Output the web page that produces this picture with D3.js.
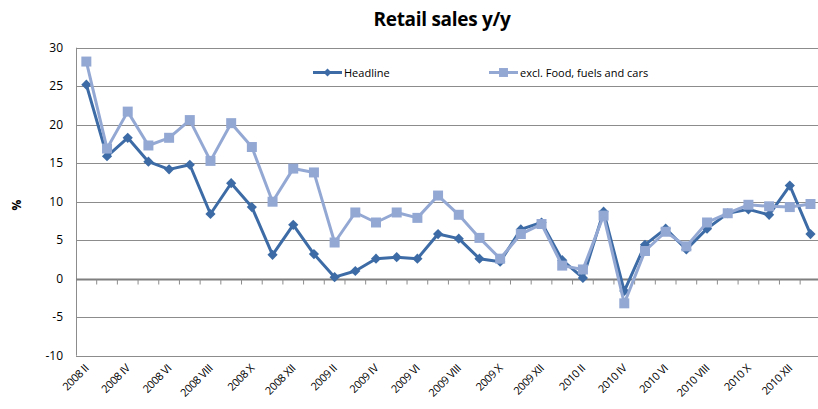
<!DOCTYPE html>
<html>
  <head>
    <meta charset="utf-8" />
    <title>Retail sales y/y</title>
    <script src="https://d3js.org/d3.v7.min.js"></script>
    <style>
        body {
            margin:0;
            background:#fff;
        }
        text {
            font-family: "Open Sans", "DejaVu Sans", sans-serif;
        }
    </style>
  </head>
  <body>
    <svg id="viz"></svg>

    <script>
    var width = 818;
    var height = 409;

    // months 2008 II .. 2011 I
    var months = ["2008 II","2008 III","2008 IV","2008 V","2008 VI","2008 VII","2008 VIII","2008 IX","2008 X","2008 XI","2008 XII",
      "2009 I","2009 II","2009 III","2009 IV","2009 V","2009 VI","2009 VII","2009 VIII","2009 IX","2009 X","2009 XI","2009 XII",
      "2010 I","2010 II","2010 III","2010 IV","2010 V","2010 VI","2010 VII","2010 VIII","2010 IX","2010 X","2010 XI","2010 XII",
      "2011 I"];

    var headline = [25.2,15.9,18.3,15.2,14.2,14.8,8.4,12.4,9.3,3.1,7.0,
      3.2,0.2,1.0,2.6,2.8,2.6,5.8,5.2,2.6,2.2,6.4,7.3,
      2.4,0.1,8.7,-1.6,4.4,6.5,3.8,6.5,8.5,9.0,8.3,12.1,
      5.8];

    var exclFood = [28.2,16.9,21.7,17.3,18.3,20.6,15.3,20.2,17.1,10.0,14.3,
      13.8,4.7,8.6,7.3,8.6,7.9,10.8,8.3,5.3,2.6,5.8,7.1,
      1.7,1.2,8.2,-3.2,3.6,6.1,4.2,7.3,8.5,9.6,9.4,9.3,
      9.7];

    var yTicks = [-10,-5,0,5,10,15,20,25,30];

    var svg = d3.select("#viz")
      .attr("width", width)
      .attr("height", height);

    var plotLeft = 76, plotTop = 47.7, plotBottom = 355.7;
    var bandW = 20.69;

    var x = d3.scaleBand()
      .domain(months)
      .range([plotLeft, plotLeft + bandW * months.length]);

    var y = d3.scaleLinear()
      .domain([-10, 30])
      .range([plotBottom, plotTop]);

    // title
    svg.append("text")
      .attr("x", 442)
      .attr("y", 26)
      .attr("text-anchor", "middle")
      .attr("font-size", 19)
      .attr("font-weight", "bold")
      .attr("letter-spacing", "-0.3")
      .text("Retail sales y/y");

    // gridlines
    svg.append("g")
      .selectAll("line")
      .data(yTicks)
      .enter().append("line")
      .attr("x1", plotLeft)
      .attr("x2", width)
      .attr("y1", function(d){ return Math.round(y(d)) + 0.5; })
      .attr("y2", function(d){ return Math.round(y(d)) + 0.5; })
      .attr("stroke", "#8c8c8c")
      .attr("stroke-width", 1);

    // y axis labels
    svg.append("g")
      .selectAll("text")
      .data(yTicks)
      .enter().append("text")
      .attr("x", 63)
      .attr("y", function(d){ return y(d) + 4; })
      .attr("text-anchor", "end")
      .attr("font-size", 12)
      .attr("fill", "#000")
      .text(function(d){ return d; });

    // vertical axis line
    svg.append("line")
      .attr("x1", plotLeft + 0.5).attr("x2", plotLeft + 0.5)
      .attr("y1", y(30)).attr("y2", y(-10))
      .attr("stroke", "#8c8c8c");

    svg.append("text")
      .attr("transform", "translate(21,205) rotate(-90)")
      .attr("text-anchor", "middle")
      .attr("font-size", 12)
      .attr("font-weight", "bold")
      .text("%");

    // zero axis with ticks between categories
    var zeroG = svg.append("g")
      .attr("transform", "translate(0," + (Math.round(y(0)) + 0.5) + ")");
    zeroG.append("line")
      .attr("x1", plotLeft).attr("x2", width)
      .attr("stroke", "#7f7f7f")
      .attr("stroke-width", 2);
    zeroG.selectAll("line.tk")
      .data(months.slice(1))
      .enter().append("line")
      .attr("class", "tk")
      .attr("x1", function(d){ return x(d); })
      .attr("x2", function(d){ return x(d); })
      .attr("y1", 0).attr("y2", 5)
      .attr("stroke", "#8c8c8c");

    // x labels every second month
    svg.append("g")
      .selectAll("text")
      .data(months.filter(function(d, i){ return i % 2 === 0 && i < 35; }))
      .enter().append("text")
      .attr("transform", function(d){
        return "translate(" + (x(d) + x.bandwidth() / 2 + 3) + "," + 369 + ") rotate(-45)";
      })
      .attr("text-anchor", "end")
      .attr("font-size", 11)
      .attr("letter-spacing", "-0.4")
      .attr("fill", "#000")
      .text(function(d){ return d; });

    var cx = function(d, i){ return x(months[i]) + x.bandwidth() / 2; };

    var series = [
      {name: "Headline", values: headline, color: "#3c6ba5", marker: "diamond"},
      {name: "excl. Food, fuels and cars", values: exclFood, color: "#94a8d4", marker: "square"}
    ];

    var line = d3.line()
      .x(cx)
      .y(function(d){ return y(d); });

    series.forEach(function(s){
      var g = svg.append("g");
      g.append("path")
        .datum(s.values)
        .attr("d", line)
        .attr("fill", "none")
        .attr("stroke", s.color)
        .attr("stroke-width", 3)
        .attr("stroke-linejoin", "round");
      var diamond = s.marker === "diamond";
      g.selectAll("path.m")
        .data(s.values)
        .enter().append("path")
        .attr("class", "m")
        .attr("d", d3.symbol().type(d3.symbolSquare).size(diamond ? 52 : 100))
        .attr("transform", function(d, i){
          return "translate(" + cx(d, i) + "," + y(d) + ")" + (diamond ? " rotate(45)" : "");
        })
        .attr("fill", s.color);
    });

    // legend
    var legend = [
      {name: "Headline", color: "#3c6ba5", marker: "diamond", x: 313},
      {name: "excl. Food, fuels and cars", color: "#94a8d4", marker: "square", x: 489}
    ];
    var lg = svg.append("g").selectAll("g")
      .data(legend)
      .enter().append("g")
      .attr("transform", function(d){ return "translate(" + d.x + ",72.5)"; });
    lg.append("line")
      .attr("x1", 0).attr("x2", 29)
      .attr("stroke", function(d){ return d.color; })
      .attr("stroke-width", 3);
    lg.append("path")
      .attr("d", function(d){
        return d3.symbol().type(d3.symbolSquare).size(d.marker === "diamond" ? 32 : 80)();
      })
      .attr("transform", function(d){
        return "translate(14.5,0)" + (d.marker === "diamond" ? " rotate(45)" : "");
      })
      .attr("fill", function(d){ return d.color; });
    lg.append("text")
      .attr("x", 31)
      .attr("y", 4)
      .attr("font-size", 11)
      .text(function(d){ return d.name; });
    </script>
  </body>
</html>
